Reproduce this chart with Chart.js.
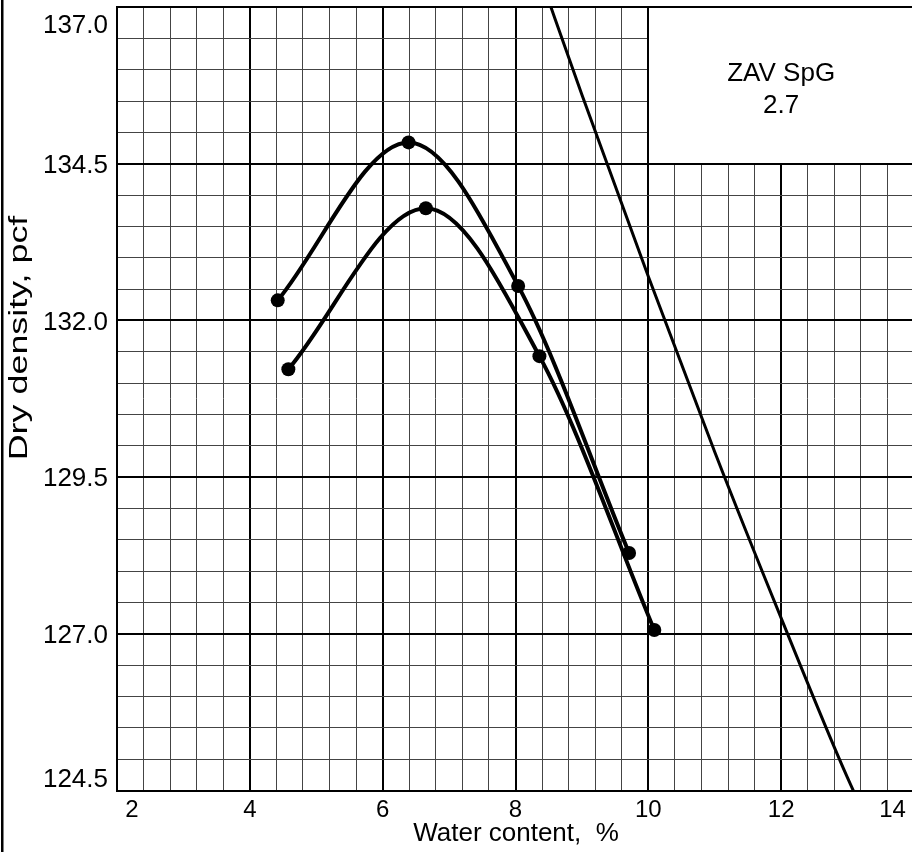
<!DOCTYPE html>
<html><head><meta charset="utf-8">
<script src="https://cdn.jsdelivr.net/npm/chart.js@4/dist/chart.umd.min.js"></script>
<style>
html,body{margin:0;padding:0;background:#fff;overflow:hidden;width:912px;height:852px}
#wrap{position:absolute;left:0;top:0;width:921px;height:852px}
</style></head><body>
<div id="wrap"><canvas id="c" width="921" height="852"></canvas></div>
<script>
// ---- data ----
const upperWater   = [4.42, 6.39, 8.04, 9.71];
const upperDensity = [132.32, 134.84, 132.55, 128.29];
const lowerWater   = [4.58, 6.65, 8.36, 10.09];
const lowerDensity = [131.22, 133.79, 131.43, 127.06];
const zavWater     = [8.4, 9.0, 10.0, 11.0, 12.0, 13.0, 13.4];
const zavDensity   = [137.4, 135.6, 132.7, 129.9, 127.25, 124.7, 123.8];
const xTickValues  = [2, 4, 6, 8, 10, 12, 14];
const xTickLabels  = ['2', '4', '6', '8', '10', '12', '14'];
const yTickValues  = [124.5, 127.0, 129.5, 132.0, 134.5, 137.0];
const yTickLabels  = ['124.5', '127.0', '129.5', '132.0', '134.5', '137.0'];
const xTitle = 'Water content,  %';
const yTitle = 'Dry density, pcf';
const zavLabel = ['ZAV SpG', '2.7'];

const FONT = '"Liberation Sans", Arial, Helvetica, sans-serif';
const pts = (xs, ys) => xs.map((v, i) => ({x: v, y: ys[i]}));
const near = (v, base, step) => {
  const q = (v - base) / step;
  return Math.abs(q - Math.round(q)) < 1e-6;
};

const deco = {
  id: 'deco',
  beforeDatasetsDraw(chart) {
    const {ctx, chartArea: a, scales: {x, y}} = chart;
    const bx = x.getPixelForValue(10), by = y.getPixelForValue(134.5);
    ctx.save();
    ctx.fillStyle = '#fff';
    ctx.fillRect(bx, a.top, a.right - bx, by - a.top);
    ctx.strokeStyle = '#000'; ctx.lineWidth = 2;
    ctx.beginPath();
    ctx.moveTo(Math.round(bx), a.top); ctx.lineTo(Math.round(bx), Math.round(by));
    ctx.lineTo(a.right, Math.round(by));
    ctx.moveTo(bx, Math.round(a.top)); ctx.lineTo(a.right, Math.round(a.top));
    ctx.stroke();
    ctx.fillStyle = '#000';
    ctx.font = '26px ' + FONT;
    ctx.textAlign = 'center'; ctx.textBaseline = 'alphabetic';
    const cx = (bx + a.right) / 2, cy = (a.top + by) / 2;
    ctx.fillText(zavLabel[0], cx, cy - 4);
    ctx.fillText(zavLabel[1], cx, cy + 28);
    ctx.restore();
  },
  afterDraw(chart) {
    const {ctx, chartArea: a, scales: {x, y}} = chart;
    ctx.save();
    ctx.fillStyle = '#000';
    // left frame line
    ctx.fillRect(1, 0, 2.5, chart.height);
    // y tick labels
    ctx.font = '26px ' + FONT;
    ctx.textAlign = 'right'; ctx.textBaseline = 'alphabetic';
    yTickValues.forEach((v, i) => {
      let c = y.getPixelForValue(v);
      if (i === yTickValues.length - 1) c += 16.5;
      if (i === 0) c -= 12.5;
      ctx.fillText(yTickLabels[i], 108, c + 9.3);
    });
    // x tick labels
    ctx.font = '24px ' + FONT;
    ctx.textAlign = 'center';
    xTickValues.forEach((v, i) => {
      let c = x.getPixelForValue(v);
      if (i === 0) c += 15;
      if (i === xTickValues.length - 1) c -= 21.5;
      ctx.fillText(xTickLabels[i], c, 817);
    });
    // axis titles
    ctx.font = '26px ' + FONT;
    ctx.fillText(xTitle, 516, 841);
    ctx.translate(27, 338);
    ctx.rotate(-Math.PI / 2);
    ctx.scale(1.38, 1);
    ctx.fillText(yTitle, 0, 0);
    ctx.restore();
  }
};

const gridOpts = (base, major) => ({
  drawTicks: false,
  color: c => near(c.tick.value, base, major) ? '#000' : '#444',
  lineWidth: c => near(c.tick.value, base, major) ? 2 : 1
});

new Chart(document.getElementById('c'), {
  type: 'line',
  data: {
    datasets: [
      {data: pts(upperWater, upperDensity), borderColor: '#000', backgroundColor: '#000',
       borderWidth: 4, pointRadius: 7, pointBorderWidth: 0, pointBackgroundColor: '#000',
       cubicInterpolationMode: 'monotone', fill: false},
      {data: pts(lowerWater, lowerDensity), borderColor: '#000', backgroundColor: '#000',
       borderWidth: 4, pointRadius: 7, pointBorderWidth: 0, pointBackgroundColor: '#000',
       cubicInterpolationMode: 'monotone', fill: false},
      {data: pts(zavWater, zavDensity), borderColor: '#000', borderWidth: 3,
       pointRadius: 0, cubicInterpolationMode: 'monotone', fill: false}
    ]
  },
  options: {
    responsive: false, animation: false, devicePixelRatio: 1,
    layout: {padding: {left: 0, top: 6, right: 2.5, bottom: 61.5}},
    plugins: {legend: {display: false}, tooltip: {enabled: false}},
    scales: {
      x: {type: 'linear', min: 2, max: 14,
          ticks: {display: false, stepSize: 0.4, maxTicksLimit: 1000},
          grid: gridOpts(2, 2), border: {display: true, color: '#000', width: 2},
          afterFit: s => { s.height = 0; }},
      y: {type: 'linear', min: 124.5, max: 137,
          ticks: {display: false, stepSize: 0.5, maxTicksLimit: 1000},
          grid: gridOpts(124.5, 2.5), border: {display: true, color: '#000', width: 2},
          afterFit: s => { s.width = 117; }}
    }
  },
  plugins: [deco]
});
</script>
</body></html>
